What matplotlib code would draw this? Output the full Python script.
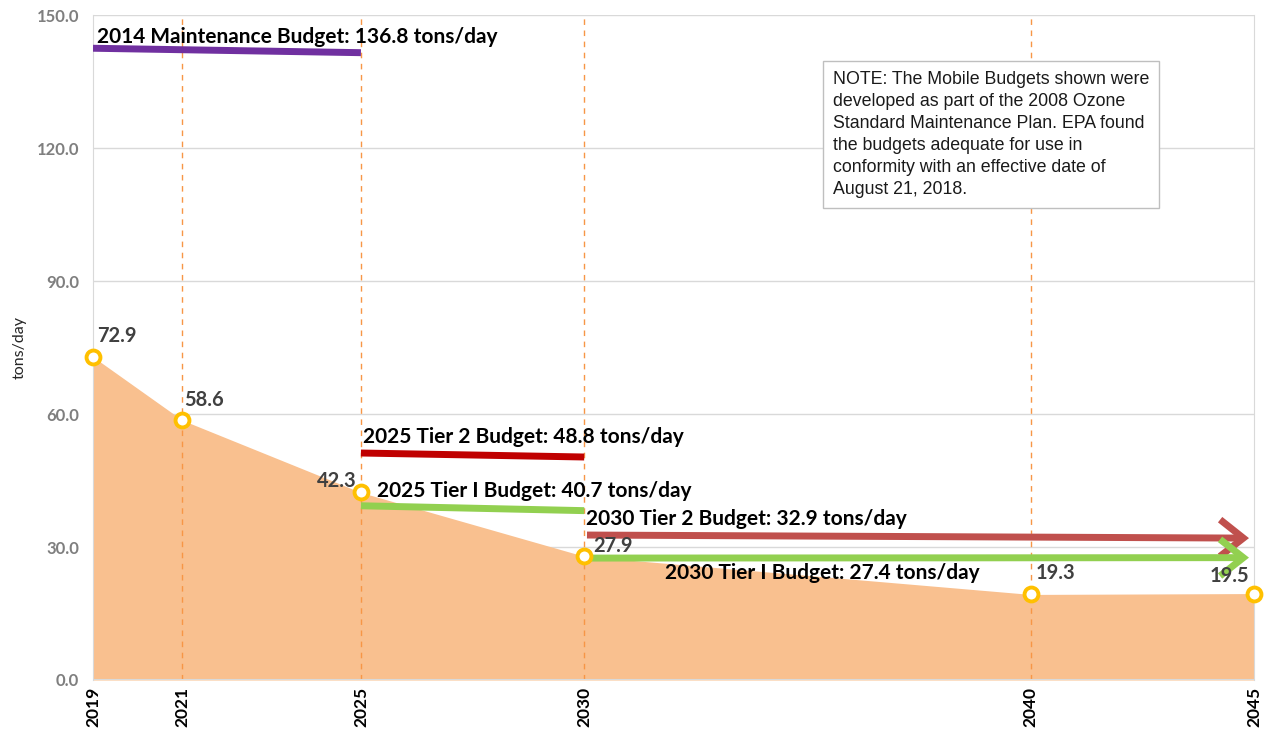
import matplotlib
matplotlib.use("Agg")
import matplotlib.pyplot as plt
from matplotlib.patches import FancyArrowPatch

# ---------------- data ----------------
years = [2019, 2021, 2025, 2030, 2040, 2045]
emissions = [72.9, 58.6, 42.3, 27.9, 19.3, 19.5]
point_labels = ["72.9", "58.6", "42.3", "27.9", "19.3", "19.5"]
vline_years = [2021, 2025, 2030, 2040]

budget_names = [
    "2014 Maintenance Budget: 136.8 tons/day",
    "2025 Tier 2 Budget: 48.8 tons/day",
    "2025 Tier I Budget: 40.7 tons/day",
    "2030 Tier 2 Budget: 32.9 tons/day",
    "2030 Tier I Budget: 27.4 tons/day",
]
budget_x0 = [2019, 2025, 2025, 2030, 2030]
budget_x1 = [2025, 2030, 2030, 2045, 2045]
budget_y0 = [142.5, 51.2, 39.3, 32.7, 27.5]
budget_y1 = [141.5, 50.3, 38.2, 32.0, 27.6]
budget_colors = ["#7030A0", "#C00000", "#92D050", "#C0504D", "#92D050"]
budget_arrow = [False, False, False, True, True]
budget_text_xy = [(2019.1, 145.0), (2025.05, 54.8), (2025.35, 42.6),
                  (2030.05, 36.3), (2031.8, 24.1)]

yticks = [0, 30, 60, 90, 120, 150]

note = ("NOTE: The Mobile Budgets shown were\n"
        "developed as part of the 2008 Ozone\n"
        "Standard Maintenance Plan. EPA found\n"
        "the budgets adequate for use in\n"
        "conformity with an effective date of\n"
        "August 21, 2018.")

# ---------------- figure ----------------
plt.rcParams['font.family'] = ['Lato', 'DejaVu Sans']
fig = plt.figure(figsize=(12.64, 7.32), dpi=100)
ax = fig.add_axes([93/1264, 1-680/732, (1254-93)/1264, (680-15)/732])

ax.set_xlim(2019, 2045)
ax.set_ylim(0, 150)

# gridlines
for yt in yticks[1:]:
    ax.axhline(yt, color="#D9D9D9", lw=1, zorder=0)

ax.fill_between(years, emissions, 0, color="#F9C08F", lw=0, zorder=1)

for vy in vline_years:
    ax.axvline(vy, color="#F79646", lw=1, ls=(0, (4, 4)), zorder=2)

# budgets
for name, x0, x1, y0, y1, c, arr, (tx, ty) in zip(
        budget_names, budget_x0, budget_x1, budget_y0, budget_y1,
        budget_colors, budget_arrow, budget_text_xy):
    if arr:
        p = FancyArrowPatch((x0, y0), (x1 - 0.05, y1),
                            arrowstyle="->,head_length=0.28,head_width=0.22",
                            mutation_scale=60, lw=5, color=c, zorder=4,
                            joinstyle="miter", capstyle="butt")
        ax.add_patch(p)
    else:
        ax.plot([x0, x1], [y0, y1], color=c, lw=5, solid_capstyle="butt",
                zorder=4)
    ax.text(tx, ty, name, fontsize=15, fontweight="bold", color="black",
            ha="left", va="center", zorder=6)

# markers
ax.plot(years, emissions, ls="none", marker="o", ms=10, mfc="white",
        mec="#FFC000", mew=2.8, zorder=5, clip_on=False)

label_pos = [(2019.1, 77.6, "left"), (2021.05, 63.2, "left"),
             (2024.9, 44.9, "right"), (2030.2, 30.2, "left"),
             (2040.1, 24.1, "left"), (2044.9, 23.5, "right")]
for lab, (lx, ly, ha) in zip(point_labels, label_pos):
    ax.text(lx, ly, lab, fontsize=14.5, fontweight="bold", color="#404040",
            ha=ha, va="center", zorder=6)

# axes styling
for s in ["top", "bottom"]:
    ax.spines[s].set_visible(False)
for s in ["left", "right"]:
    ax.spines[s].set_color("#D9D9D9")
ax.axhline(0, color="#D9D9D9", lw=1.5, zorder=3)

ax.set_yticks(yticks)
ax.set_yticklabels([f"{v:.1f}" for v in yticks], fontsize=12,
                   fontweight="bold", color="#7F7F7F")
ax.set_xticks(years)
ax.set_xticklabels([str(y) for y in years], rotation=90, fontsize=12.5,
                   fontweight="bold", color="black")
ax.tick_params(axis="both", length=0)
ax.tick_params(axis="y", pad=10)
ax.tick_params(axis="x", pad=5)
ax.set_ylabel("tons/day", fontsize=11.5, color="#262626")
ax.yaxis.set_label_coords(-0.057, 0.5)

# note
fig.text(833/1264, 1-134.5/732, note, fontsize=12.8, color="#1a1a1a",
         family=["Liberation Sans", "DejaVu Sans"], ha="left", va="center",
         linespacing=1.4,
         bbox=dict(boxstyle="square,pad=0.55", fc="white", ec="#BFBFBF", lw=1))

fig.savefig("out.png", dpi=100)
